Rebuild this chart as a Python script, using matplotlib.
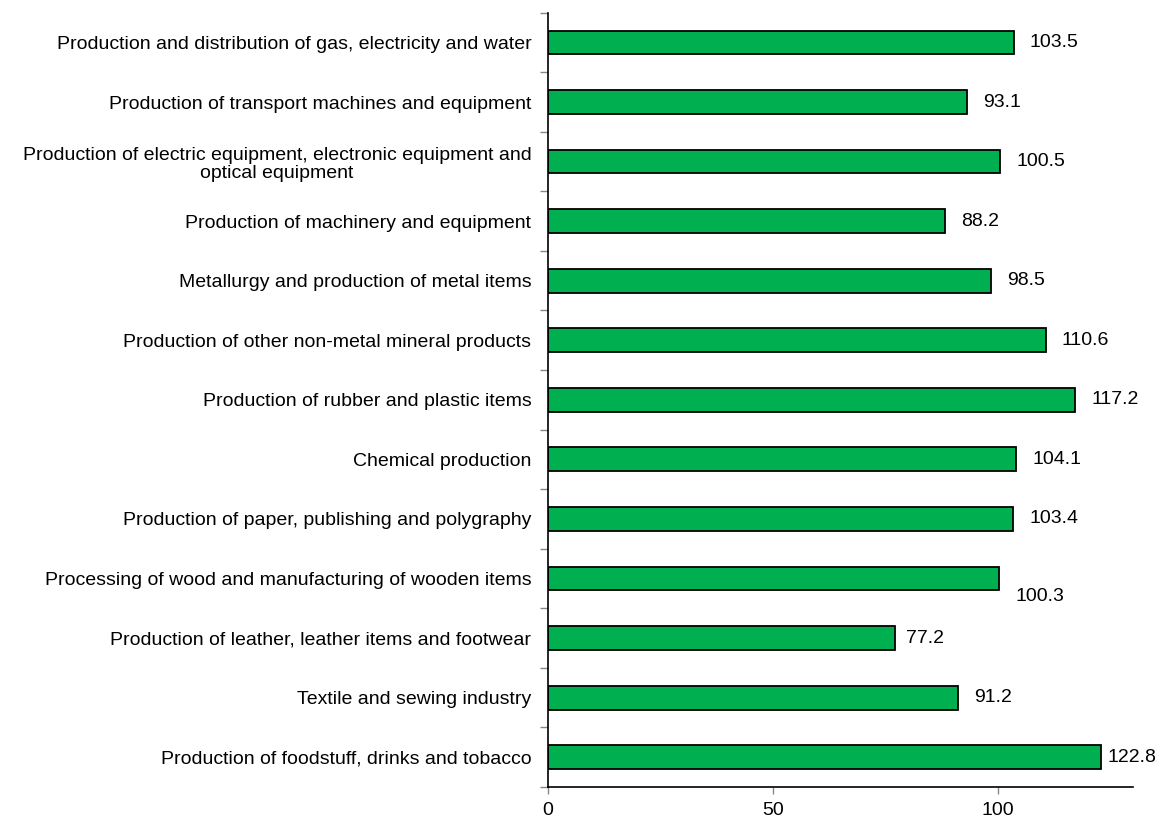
import matplotlib
matplotlib.use('Agg')
import matplotlib.pyplot as plt
import numpy as np

# Industry categories (top to bottom as shown)
categories = [
    'Production and distribution of gas, electricity and water',
    'Production of transport machines and equipment',
    'Production of electric equipment, electronic equipment and\noptical equipment',
    'Production of machinery and equipment',
    'Metallurgy and production of metal items',
    'Production of other non-metal mineral products',
    'Production of rubber and plastic items',
    'Chemical production',
    'Production of paper, publishing and polygraphy',
    'Processing of wood and manufacturing of wooden items',
    'Production of leather, leather items and footwear',
    'Textile and sewing industry',
    'Production of foodstuff, drinks and tobacco',
]
values = [103.5, 93.1, 100.5, 88.2, 98.5, 110.6, 117.2, 104.1, 103.4, 100.3, 77.2, 91.2, 122.8]
x_ticks = [0, 50, 100]

plt.rcParams['font.family'] = ['Liberation Sans', 'DejaVu Sans']
plt.rcParams['font.size'] = 14

fig = plt.figure(figsize=(11.58, 8.18), dpi=100)
ax = fig.add_axes([0.4732, 0.0379, 0.9784 - 0.4732, 0.9845 - 0.0379])

y = np.arange(len(categories))
ax.barh(y, values, height=0.4, color='#00B050', edgecolor='black', linewidth=1.3)

ax.set_ylim(len(categories) - 0.5, -0.5)
ax.set_xlim(0, 130)

ax.set_yticks(y)
ax.set_yticklabels(categories)
for lbl in ax.get_yticklabels():
    lbl.set_multialignment('center')
    lbl.set_linespacing(1.1)
ax.tick_params(axis='y', which='major', length=0, pad=12)
ax.set_yticks(np.arange(len(categories) + 1) - 0.5, minor=True)
ax.tick_params(axis='y', which='minor', length=6, color='#888888', width=1)

ax.set_xticks(x_ticks)
ax.tick_params(axis='x', length=5, color='#888888', width=1, pad=6)

for side in ['top', 'right']:
    ax.spines[side].set_visible(False)
for side in ['left', 'bottom']:
    ax.spines[side].set_color('black')
    ax.spines[side].set_linewidth(1.2)

# value labels; a few sit at other offsets in the original
for yi, v in zip(y, values):
    if v == 100.3:
        off = (12, -13)
    elif v == 122.8:
        off = (5, 0)
    elif v == 77.2:
        off = (8, 0)
    else:
        off = (11.5, 0)
    ax.annotate(f'{v:.1f}', xy=(v, yi), xytext=off, textcoords='offset points',
                ha='left', va='center', fontsize=14)

fig.savefig('out.png', dpi=100)
